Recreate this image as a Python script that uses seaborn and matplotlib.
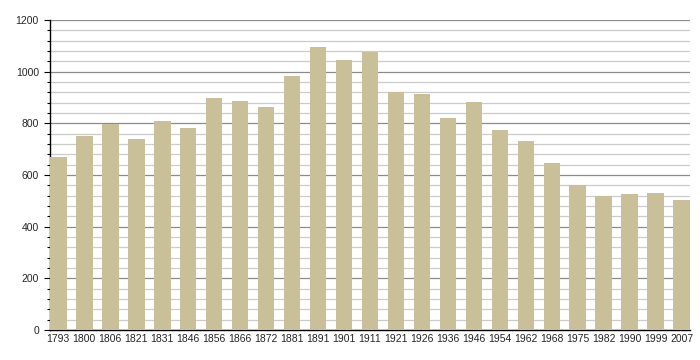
import numpy as np
import pandas as pd
import seaborn as sns
import matplotlib.pyplot as plt
from matplotlib.ticker import MultipleLocator

years = ["1793", "1800", "1806", "1821", "1831", "1846", "1856", "1866", "1872",
         "1881", "1891", "1901", "1911", "1921", "1926", "1936", "1946", "1954",
         "1962", "1968", "1975", "1982", "1990", "1999", "2007"]
population = [671, 751, 797, 739, 809, 783, 898, 886, 863,
              983, 1096, 1044, 1077, 923, 914, 821, 883, 774,
              732, 645, 561, 518, 525, 530, 504]

df = pd.DataFrame({"year": years, "pop": population})

sns.set_style("white")
plt.rcParams['font.family'] = ['Liberation Sans', 'DejaVu Sans']

fig = plt.figure(figsize=(7, 3.6), dpi=100)
ax = fig.add_axes([50 / 700, 30 / 360, 640 / 700, 310 / 360])

# grid lines: light every 40, darker every 200
ax.yaxis.set_major_locator(MultipleLocator(200))
ax.yaxis.set_minor_locator(MultipleLocator(40))
ax.grid(which='minor', axis='y', color='#cccccc', linewidth=0.9)
ax.grid(which='major', axis='y', color='#8c8c8c', linewidth=0.9)
ax.set_axisbelow(True)

sns.barplot(data=df, x="year", y="pop", color="#c9bf98", saturation=1,
            width=0.64, linewidth=0, ax=ax, zorder=3)

ax.set_xlim(-0.32, len(years) - 1 + 0.32)
ax.set_ylim(0, 1200)
ax.set_xlabel("")
ax.set_ylabel("")

for s in ["top", "right"]:
    ax.spines[s].set_visible(False)
for s in ["left", "bottom"]:
    ax.spines[s].set_color("black")
    ax.spines[s].set_linewidth(1.0)

ax.tick_params(axis='y', which='major', length=4, width=0.8, color='black',
               labelsize=7.5, pad=4, left=True)
ax.tick_params(axis='y', which='minor', length=2.5, width=0.8, color='black', left=True)
ax.tick_params(axis='x', length=0, labelsize=7.5, pad=3)

fig.savefig("out.png", dpi=100)
